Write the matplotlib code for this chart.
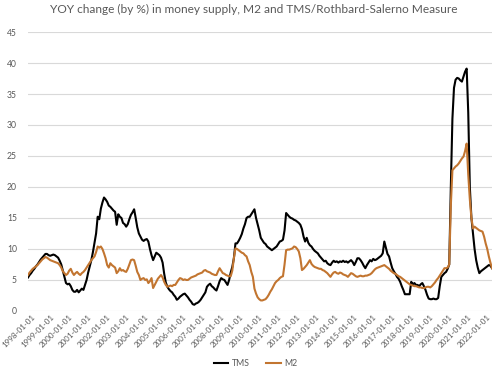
import numpy as np
import matplotlib
matplotlib.use("Agg")
import matplotlib.pyplot as plt
from matplotlib.transforms import ScaledTranslation

plt.rcParams["font.family"] = ["Lato", "DejaVu Sans"]

title = "YOY change (by %) in money supply, M2 and TMS/Rothbard-Salerno Measure"
years = list(range(1998, 2023))
tick_labels = [f"{y}-01-01" for y in years]

tms = [
    5.4, 5.8, 6.1, 6.5, 6.8, 7.2, 7.5, 7.9, 8.3, 8.6, 8.9, 9.2,        # 1998
    9.2, 9.0, 8.9, 9.0, 9.1, 9.0, 8.8, 8.6, 8.1, 7.5, 6.5, 5.5,        # 1999
    4.5, 4.3, 4.4, 4.0, 3.4, 3.1, 3.1, 3.4, 3.0, 3.3, 3.6, 3.4,        # 2000
    4.2, 5.0, 6.2, 7.2, 8.2, 9.5, 11.0, 12.5, 15.2, 14.8, 16.5, 17.5,  # 2001
    18.3, 18.0, 17.6, 17.0, 16.8, 16.5, 16.2, 16.0, 13.9, 15.6, 15.2, 15.0,  # 2002
    14.2, 14.0, 13.6, 14.0, 14.8, 15.5, 15.9, 16.4, 15.0, 13.5, 12.5, 12.0,  # 2003
    11.5, 11.3, 11.5, 11.6, 11.2, 10.0, 9.0, 8.2, 8.8, 9.4, 9.2, 9.0,  # 2004
    8.6, 7.8, 6.0, 4.6, 3.9, 3.5, 3.2, 3.0, 2.6, 2.3, 1.8, 2.0,        # 2005
    2.3, 2.5, 2.7, 2.8, 2.5, 2.2, 1.8, 1.5, 1.1, 1.0, 1.2, 1.3,        # 2006
    1.5, 1.8, 2.2, 2.6, 3.0, 3.9, 4.2, 4.4, 4.0, 3.8, 3.5, 3.3,        # 2007
    4.0, 4.8, 5.3, 5.1, 5.0, 4.6, 4.2, 5.0, 6.2, 7.1, 8.5, 10.9,       # 2008
    10.9, 11.3, 11.8, 12.4, 13.3, 14.0, 15.0, 15.2, 15.2, 15.6, 16.0, 16.4,  # 2009
    15.0, 14.0, 13.0, 11.8, 11.4, 11.0, 10.8, 10.4, 10.2, 10.0, 9.8, 10.0,  # 2010
    10.2, 10.4, 10.8, 11.2, 11.3, 11.5, 13.0, 15.8, 15.5, 15.2, 15.0, 14.9,  # 2011
    14.7, 14.6, 14.4, 14.2, 13.9, 13.2, 12.0, 11.2, 11.8, 11.0, 10.6, 10.4,  # 2012
    10.0, 9.7, 9.5, 9.3, 8.9, 8.6, 8.3, 8.0, 8.1, 7.7, 7.5, 7.4,       # 2013
    7.8, 8.1, 7.9, 8.0, 7.8, 8.0, 7.9, 8.1, 7.9, 8.0, 7.8, 8.0,        # 2014
    8.2, 7.9, 7.4, 7.9, 8.5, 8.5, 8.2, 7.8, 7.3, 6.9, 7.4, 7.8,        # 2015
    8.2, 8.0, 8.4, 8.2, 8.3, 8.5, 8.7, 8.9, 9.3, 11.2, 10.2, 9.2,      # 2016
    8.8, 7.8, 6.9, 6.4, 6.0, 5.5, 5.2, 4.7, 4.0, 3.4, 2.7, 2.7,        # 2017
    2.7, 2.7, 4.7, 4.3, 4.5, 4.2, 4.2, 4.0, 4.3, 4.5, 4.0, 3.4,        # 2018
    2.6, 2.0, 1.9, 1.9, 2.0, 1.9, 1.9, 2.1, 4.0, 5.5, 5.8, 6.1,        # 2019
    6.3, 6.8, 7.5, 20.0, 31.0, 36.0, 37.3, 37.6, 37.5, 37.2, 37.0, 37.8,  # 2020
    38.6, 39.1, 32.0, 20.0, 15.0, 12.5, 10.0, 8.2, 7.0, 6.1, 6.4, 6.6,  # 2021
    6.8, 7.0, 7.2, 7.4, 7.3, 6.9,                                      # 2022
]

m2 = [
    5.8, 6.2, 6.5, 6.8, 7.0, 7.2, 7.4, 7.7, 8.0, 8.3, 8.5, 8.7,        # 1998
    8.6, 8.4, 8.2, 8.1, 8.0, 7.9, 7.8, 7.7, 7.4, 7.0, 6.4, 6.1,        # 1999
    5.8, 6.0, 6.5, 6.8, 6.2, 5.8, 6.1, 6.3, 6.0, 5.8, 6.1, 6.3,        # 2000
    6.6, 7.0, 7.4, 7.8, 8.2, 8.5, 8.8, 9.5, 10.4, 10.2, 10.4, 10.0,    # 2001
    9.3, 8.5, 7.4, 7.0, 7.7, 7.4, 7.2, 7.0, 6.1, 6.4, 6.9, 6.5,        # 2002
    6.6, 6.4, 6.3, 6.8, 7.5, 8.2, 8.3, 8.2, 7.3, 6.3, 5.8, 5.0,        # 2003
    5.2, 5.3, 5.0, 5.1, 4.5, 4.8, 5.3, 3.7, 4.2, 4.7, 5.2, 5.5,        # 2004
    5.8, 5.4, 4.7, 4.2, 3.9, 4.0, 4.1, 4.0, 4.2, 4.2, 4.6, 5.0,        # 2005
    5.3, 5.2, 5.0, 5.1, 5.0, 5.0, 5.2, 5.4, 5.5, 5.6, 5.7, 5.9,        # 2006
    6.0, 6.1, 6.2, 6.5, 6.6, 6.4, 6.3, 6.2, 6.0, 5.9, 5.8, 5.8,        # 2007
    6.4, 6.9, 6.5, 6.1, 6.0, 5.8, 5.7, 5.6, 5.6, 6.5, 8.5, 10.1,       # 2008
    10.0, 9.8, 9.6, 9.4, 9.3, 9.0, 8.8, 8.0, 7.4, 6.3, 5.5, 3.6,       # 2009
    2.8, 2.2, 1.9, 1.7, 1.7, 1.8, 1.9, 2.2, 2.6, 3.1, 3.5, 4.0,        # 2010
    4.5, 4.8, 5.0, 5.3, 5.5, 5.6, 7.5, 9.8, 9.9, 9.9, 10.0, 10.1,      # 2011
    10.4, 10.3, 10.0, 9.6, 8.5, 6.6, 6.8, 7.1, 7.4, 7.8, 8.2, 7.6,     # 2012
    7.3, 7.1, 7.0, 6.9, 6.8, 6.8, 6.6, 6.5, 6.3, 6.1, 5.8, 5.5,        # 2013
    5.9, 6.2, 6.3, 6.1, 6.0, 6.2, 6.1, 5.9, 5.8, 5.7, 5.5, 5.8,        # 2014
    6.1, 6.0, 5.8, 5.6, 5.5, 5.6, 5.7, 5.6, 5.6, 5.7, 5.7, 5.8,        # 2015
    5.9, 6.1, 6.4, 6.7, 6.9, 7.0, 7.1, 7.2, 7.3, 7.4, 7.2, 7.0,        # 2016
    6.8, 6.5, 6.3, 6.1, 6.0, 5.8, 5.6, 5.5, 5.3, 5.1, 4.9, 4.7,        # 2017
    4.5, 4.3, 4.2, 4.1, 4.0, 4.0, 3.9, 3.8, 3.8, 3.7, 3.7, 3.8,        # 2018
    3.9, 3.9, 3.8, 4.0, 4.3, 4.6, 5.0, 5.3, 5.7, 6.1, 6.5, 6.9,        # 2019
    6.9, 7.0, 7.5, 17.0, 22.7, 23.0, 23.3, 23.5, 23.8, 24.2, 24.6, 24.9,  # 2020
    25.8, 27.0, 22.0, 18.0, 15.0, 13.3, 13.6, 13.4, 13.2, 13.0, 12.9, 12.8,  # 2021
    12.0, 10.9, 10.0, 8.8, 7.8, 6.9,                                   # 2022
]

GREY = "#595959"
fig = plt.figure(figsize=(5.0, 3.68), dpi=100)
ax = fig.add_axes([0.056, 0.155, 0.928, 0.758])

x = np.arange(len(tms))
ax.plot(x, tms, color="black", lw=1.5, label="TMS")
ax.plot(x, m2, color="#C27530", lw=1.5, label="M2")

ax.set_xlim(0, len(tms) - 1)
ax.set_ylim(0, 45)
ax.set_yticks(range(0, 46, 5))
ax.yaxis.grid(True, color="#d9d9d9", lw=0.8)
ax.set_axisbelow(True)
for s in ax.spines.values():
    s.set_visible(False)
ax.tick_params(axis="both", length=0, colors=GREY, labelsize=6.2)
ax.set_xticks(np.arange(0, len(tms), 12))
ax.set_xticklabels(tick_labels, rotation=45, ha="right", rotation_mode="anchor")
ax.tick_params(axis="x", pad=2, labelsize=5.8)
ax.tick_params(axis="y", pad=8)
offset = ScaledTranslation(3 / 100, 0, fig.dpi_scale_trans)
for lab in ax.get_xticklabels():
    lab.set_transform(lab.get_transform() + offset)

fig.text(0.508, 0.975, title, ha="center", va="center", fontsize=8.6, color=GREY)
ax.legend(loc="center", bbox_to_anchor=(0.49, -0.19), ncol=2, frameon=False,
          fontsize=6.3, labelcolor=GREY, handlelength=1.7, columnspacing=1.8, handletextpad=0.4)

fig.savefig("out.png", dpi=100)
